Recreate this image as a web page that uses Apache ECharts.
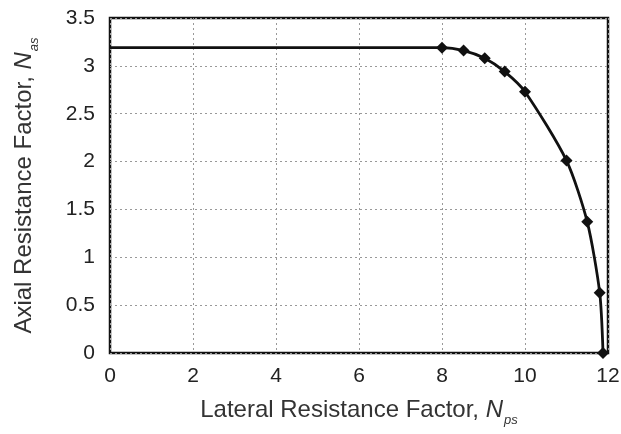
<!DOCTYPE html>
<html><head><meta charset="utf-8">
<script src="https://cdn.jsdelivr.net/npm/echarts@6/dist/echarts.min.js"></script>
<style>html,body{margin:0;padding:0;background:#fff}#c{width:621px;height:434px}</style>
</head><body><div id="c"></div>
<script>
const lateral = [0, 8.0, 8.52, 9.03, 9.51, 10.0, 11.0, 11.5, 11.8, 11.88];
const axial   = [3.19, 3.19, 3.16, 3.08, 2.94, 2.73, 2.01, 1.37, 0.63, 0.0];
const markerFlags = [false, true, true, true, true, true, true, true, true, true];
const xTicks = [0, 2, 4, 6, 8, 10, 12];
const yTicks = [0, 0.5, 1, 1.5, 2, 2.5, 3, 3.5];

const font = '"Liberation Sans", Arial, sans-serif';
const data = lateral.map((x, i) => ({
  value: [x, axial[i]],
  symbolSize: markerFlags[i] ? 12 : 0
}));
const titleRich = {
  n: {fontSize: 24, fontFamily: font, color: '#333'},
  i: {fontSize: 24, fontFamily: font, color: '#333', fontStyle: 'italic'},
  s: {fontSize: 13, fontFamily: font, color: '#333', fontStyle: 'italic', verticalAlign: 'bottom', padding: [20, 0, 0, 1]}
};

const chart = echarts.init(document.getElementById('c'), null, {renderer: 'canvas'});
chart.setOption({
  animation: false,
  grid: {left: 110, right: 13, top: 18, bottom: 81, containLabel: false, outerBoundsMode: 'none',
         show: true, borderColor: '#111', borderWidth: 2.5, backgroundColor: 'transparent'},
  xAxis: {
    type: 'value', min: xTicks[0], max: xTicks[xTicks.length-1], interval: 2,
    axisLine: {show: false}, axisTick: {show: false},
    axisLabel: {color: '#222', fontSize: 21, fontFamily: font, margin: 13},
    splitLine: {show: true, lineStyle: {color: '#999', type: [2, 3], width: 1}},
    name: '{n|Lateral Resistance Factor, }{i|N}{s|ps}',
    nameLocation: 'middle', nameGap: 41,
    nameTextStyle: {rich: titleRich}
  },
  yAxis: {
    type: 'value', min: yTicks[0], max: yTicks[yTicks.length-1], interval: 0.5,
    axisLine: {show: false}, axisTick: {show: false},
    axisLabel: {color: '#222', fontSize: 21, fontFamily: font, margin: 15},
    splitLine: {show: true, lineStyle: {color: '#999', type: [2, 3], width: 1}},
    name: '{n|Axial Resistance Factor, }{i|N}{s|as}',
    nameLocation: 'middle', nameGap: 69, nameRotate: 90,
    nameTextStyle: {rich: titleRich}
  },
  series: [{
    type: 'line',
    data: data,
    smooth: 0.25,
    symbol: 'diamond',
    clip: false,
    lineStyle: {color: '#111', width: 2.8},
    itemStyle: {color: '#111'}
  }]
});
</script>
</body></html>
